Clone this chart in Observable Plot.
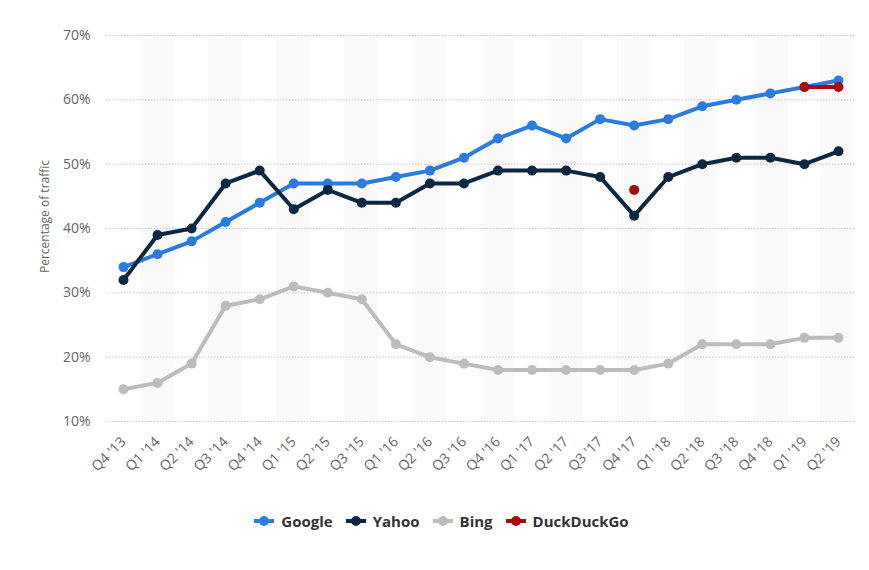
<!DOCTYPE html>
<html>
<head>
<meta charset="utf-8">
<script src="https://cdn.jsdelivr.net/npm/d3@7"></script>
<script src="https://cdn.jsdelivr.net/npm/@observablehq/plot@0.6"></script>
<style>
  html, body { margin: 0; padding: 0; background: #fff; }
  body { width: 869px; font-family: "Open Sans", sans-serif; }
  #legend { display: flex; justify-content: center; align-items: center; gap: 13px; margin-top: 20px; padding-left: 14px; font-family: "Open Sans", sans-serif; font-weight: 700; font-size: 15px; color: #333; height: 22px; }
  .item { display: flex; align-items: center; gap: 7px; }
  .sym { position: relative; width: 20px; height: 10px; }
  .sym .ln { position: absolute; left: 0; right: 0; top: 3px; height: 4px; }
  .sym .dt { position: absolute; left: 5px; top: 0; width: 10px; height: 10px; border-radius: 50%; }
</style>
</head>
<body>
<div id="chart"></div>
<div id="legend"></div>
<script>
const quarters = ["Q4 '13","Q1 '14","Q2 '14","Q3 '14","Q4 '14","Q1 '15","Q2 '15","Q3 '15","Q1 '16","Q2 '16","Q3 '16","Q4 '16","Q1 '17","Q2 '17","Q3 '17","Q4 '17","Q1 '18","Q2 '18","Q3 '18","Q4 '18","Q1 '19","Q2 '19"];
const google = [34,36,38,41,44,47,47,47,48,49,51,54,56,54,57,56,57,59,60,61,62,63];
const yahoo  = [32,39,40,47,49,43,46,44,44,47,47,49,49,49,48,42,48,50,51,51,50,52];
const bing   = [15,16,19,28,29,31,30,29,22,20,19,18,18,18,18,18,19,22,22,22,23,23];
const duck   = [null,null,null,null,null,null,null,null,null,null,null,null,null,null,null,46,null,null,null,null,62,62];
const seriesNames = ["Google","Yahoo","Bing","DuckDuckGo"];
const seriesColors = ["#2b7bde","#0e2741","#bcbcbc","#a30d0d"];
const yTicks = [10,20,30,40,50,60,70];

const seriesValues = [google, yahoo, bing, duck];
const rows = [];
seriesValues.forEach((vals, s) => vals.forEach((v, i) => rows.push({series: seriesNames[s], i, v: v == null ? NaN : v})));
const bands = quarters.map((q, i) => i).filter(i => i % 2 === 1);

const marks = [
  Plot.rectY(bands, {x1: d => d - 0.5, x2: d => d + 0.5, y1: 10, y2: 70, fill: "#fafafa"}),
  Plot.gridY(yTicks, {stroke: "#c8c8c8", strokeOpacity: 1, strokeDasharray: "1.5,1.5"}),
  Plot.axisY(yTicks, {tickSize: 0, tickPadding: 16, tickFormat: d => d + "%", label: null, fontSize: 14, fill: "#666"}),
  Plot.axisX(quarters.map((q, i) => i), {tickSize: 0, tickPadding: 18, tickRotate: -45, tickFormat: i => quarters[i], label: null, fontSize: 14, fill: "#666"}),
  Plot.text(["Percentage of traffic"], {frameAnchor: "left", textAnchor: "middle", dx: -61, dy: -12, rotate: -90, fontSize: 12, fill: "#666", text: d => d})
];
seriesNames.forEach((name, s) => {
  const data = rows.filter(r => r.series === name);
  marks.push(Plot.line(data, {x: "i", y: "v", stroke: seriesColors[s], strokeWidth: 4}));
  marks.push(Plot.dot(data, {x: "i", y: "v", r: 5, fill: seriesColors[s], stroke: "none"}));
});

const chart = Plot.plot({
  width: 869,
  height: 490,
  marginLeft: 106,
  marginRight: 14,
  marginTop: 35,
  marginBottom: 69,
  style: {fontFamily: "Open Sans", fontSize: "14px", background: "#fff"},
  x: {type: "linear", domain: [-0.5, quarters.length - 0.5]},
  y: {domain: [10, 70]},
  marks
});
document.getElementById("chart").appendChild(chart);

const legend = document.getElementById("legend");
seriesNames.forEach((name, s) => {
  const it = document.createElement("div");
  it.className = "item";
  it.innerHTML = `<span class="sym"><span class="ln" style="background:${seriesColors[s]}"></span><span class="dt" style="background:${seriesColors[s]}"></span></span><span>${name}</span>`;
  legend.appendChild(it);
});
</script>
</body>
</html>
